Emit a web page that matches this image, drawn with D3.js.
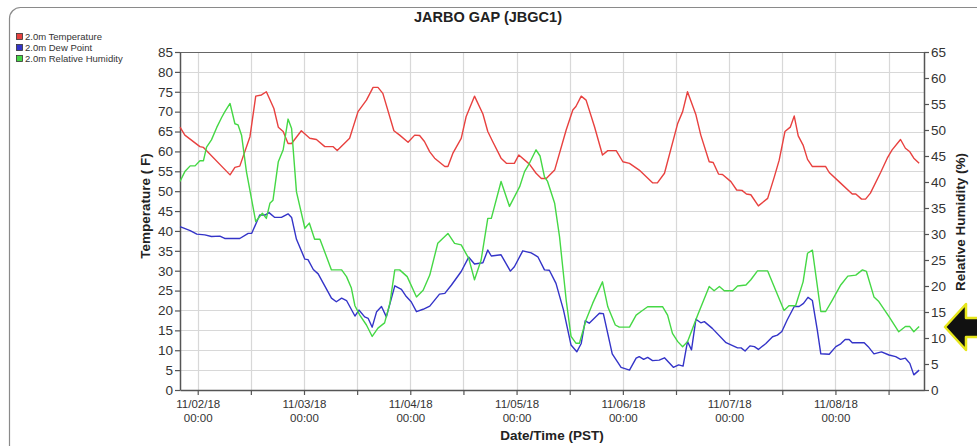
<!DOCTYPE html>
<html>
<head>
<meta charset="utf-8">
<script src="https://cdn.jsdelivr.net/npm/d3@7"></script>
<style>
  body { margin: 0; background: #fff; }
  svg { display: block; font-family: "Liberation Sans", Arial, sans-serif; }
</style>
</head>
<body>
<svg id="chart" width="977" height="446"></svg>
<script>
// hours since 11/01/18 20:00 PST
const tempHours = [0,1.1,4.5,5.3,11.3,12.4,13.5,15.8,17.1,18.4,19.5,21.2,22.2,23.3,24.4,25.2,27.4,29.3,30.8,32.7,34.6,35.5,38.3,40.2,42.1,43.6,44.7,45.8,48.3,49.6,51.5,53,54.1,55.2,56.4,57.5,59.8,60.5,61.6,63.5,64.6,66.5,68.4,69.5,70.6,72.5,73.7,75.5,76.5,78.9,80.4,81.6,82.7,84.6,87.2,88.7,89.4,90.6,91.7,93.6,95.4,96.6,98.5,100,101.5,103.7,106.7,107.8,109.4,112.4,113.5,114.6,116.5,117.6,119.5,120.4,121.6,122.5,124.4,125.7,126.9,127.9,128.9,130.6,132.7,134.2,135.3,136.6,137.8,138.7,139.6,140.7,141.7,142.8,145.8,146.6,148.8,151.8,152.6,153.9,154.8,155.9,158.2,159.7,160.8,162.7,163.8,164.8,165.7,166.9];
const tempValues = [66.1,64.1,61.2,61,54.1,56,56.3,63.7,73.9,74.2,75,70.8,66.1,65,62,62,65.2,63.3,63,61.2,61.2,60.2,63.3,70,72.9,76.1,76.1,74.6,65.2,64.1,62.3,64.1,64,62.5,59.9,58.3,56.2,56.2,59.5,63.3,68.7,73.9,69.4,65,62.5,58.3,57,57,59.1,56.8,54.5,53.2,53.2,55.3,65.4,70.4,71.3,73.9,72.9,66.2,59.1,60.2,60.2,57.4,57,55.3,52.1,52.1,54.5,67.1,70,75,69.2,64.1,57.4,57.2,54.3,54.2,52.4,50.3,50.2,49.3,49.1,46.3,48.2,53.6,57.8,65,66.1,68.9,63.9,61.6,58,56.2,56.2,54.7,52.4,49.3,49.3,48,48,49.5,54.7,58.3,60.4,63,60.8,59.9,58.3,57];

const dewHours = [0,2.3,3.8,5.6,7.1,9,10.1,13.5,15.4,16.2,18,19.2,20.1,21.4,22.9,24.4,25.2,26.3,28.2,28.9,30.1,31.2,34.2,35.3,36.5,37.6,39.5,40.4,41.7,42.5,43.4,44.4,45.5,46.6,48.5,50,51.1,52.2,53.4,54.9,56.4,58.6,59.8,61.3,63.5,65.2,66.5,68.4,69.5,70.3,72.5,74.6,75.5,77.4,79.3,80.8,82.3,83.4,84.9,86.6,88.3,89.6,90.6,91.5,92.4,94.7,95.6,97.6,99.6,101.5,103,103.7,104.7,105.6,106.7,108.2,109.4,111.4,112.6,113.6,114.6,115.5,116.5,117.6,118.4,120.2,123.3,125.9,126.7,127.6,128.7,129.7,130.6,132.3,133.8,134.9,135.9,137.1,138.7,139.8,140.8,141.8,142.8,143.9,144.7,146.6,148.1,149.2,150.2,151.1,151.8,154.5,155.4,156.7,158.4,160.1,161.6,162.7,163.8,164.8,165.7,166.9];
const dewValues = [41.1,40.1,39.2,39,38.6,38.7,38.1,38.1,39.4,39.4,44,44,44.6,43.4,43.4,44.3,43.4,37.9,32.9,32.8,30.3,29.2,23.1,22.2,23.1,22.5,18.6,20.1,18.4,18,15.8,19.7,21,18.4,26.2,25.3,23.5,22.2,19.7,20.3,21.1,24.1,24.3,26.4,29.8,33.4,31.7,32,35.2,33.7,34,29.9,31,35,34.5,33.5,30.2,30.1,26.8,20.1,11.3,9.6,11.7,17.4,16.8,19.3,19.2,9.1,5.7,5,8,8.4,7.7,8.2,7.4,7.5,8.1,5.7,6.3,6,12.2,10.1,17.8,16.9,17.2,15.5,11.9,10.6,10.6,9.8,11.1,10.9,10.2,11.7,13.4,13.8,14.7,17.6,21,21,21.8,23.3,22.5,15.1,9.1,9,10.9,11.6,12.7,12.7,11.9,11.9,10.9,9.1,9.6,8.8,8.4,7.7,8,6.7,3.8,5];

const rhHours = [0,1.1,2.3,3.4,4.5,5.3,6,7.1,8.3,9.4,10.1,11.3,12.4,13.1,13.9,15,16.2,17.1,18.6,19.5,20.3,21,22.2,23.3,24.4,25.2,26.3,28.2,29.2,30.4,31.6,34.2,36.5,37.6,38.7,39.5,40.6,42.1,43.4,44.7,46.2,47.4,48.5,49.6,51.3,53.4,54.9,56.4,58.2,60.5,62,63.5,65.2,66.5,68,69.5,70.3,72.5,74.4,76.7,77.8,78.9,80.4,81.3,82.3,83,84.6,85.7,87.2,88.3,89.4,90.2,91.7,93.2,95.4,96.6,98.3,99.2,101.5,103,104.1,105.6,109,110.1,111.2,112.4,113.5,114.6,116.9,119.5,120.6,121.8,122.9,124.8,125.9,127.8,128.9,130.4,132.7,134.5,136.4,137.5,139,140.7,141.7,142.8,144.7,145.8,147.3,149.2,150.8,152.6,154.1,155,156.7,157.8,160.1,162.3,163.8,164.8,165.7,166.9];
const rhValues = [40.1,42,43.1,43.1,44.1,44.1,46.7,48.1,50.5,52.4,53.5,55.1,51.2,51,49,42,36.5,32.4,34,33,35.9,36.5,43.9,46.2,52.1,50.3,38.1,31.1,32.1,29,29,23.1,23.1,21.8,19.6,16.2,14.4,12.5,10.3,11.9,12.9,16.7,23.1,23.1,21.8,17.9,19.2,22.1,28.2,30.1,28.2,27.9,25.3,21.2,25,33,33,40.1,35.3,39.1,42,43.6,46.2,45,41,40.1,35.9,29.5,17.3,10.3,9,9,13.5,16.7,20.8,16,12.5,12.1,12.1,14.4,15.1,16,16,14.4,10.9,9.3,8.3,9.3,14.4,19.9,19.1,19.9,19.1,19.1,20,20.2,21.2,22.9,22.9,19.2,15.3,16.2,16.2,20.8,26.3,26.9,15.1,15.1,17.3,20.2,21.9,22.1,23.1,22.8,17.9,17,14.1,11.2,12.2,12.2,11.2,12.2];

const seriesNames = ["2.0m Temperature", "2.0m Dew Point", "2.0m Relative Humidity"];
const seriesColors = ["#e8413f", "#3434c8", "#45d845"];
const tempTicks = d3.range(0, 86, 5);
const rhTicks = d3.range(0, 66, 5);

const svg = d3.select("#chart");
const start = new Date(2018, 10, 1, 20);
const end = new Date(2018, 10, 8, 20);
const plotL = 180, plotR = 924, plotT = 52, plotB = 390;

const x = d3.scaleTime().domain([start, end]).range([plotL, plotR]);
const yT = d3.scaleLinear().domain([0, 85]).range([plotB, plotT]);
const yR = d3.scaleLinear().domain([0, 65]).range([plotB, plotT]);
const toDate = (h) => new Date(start.getTime() + h * 3600e3);

// outer frame
svg.append("rect")
  .attr("x", 9.5).attr("y", 7.5).attr("width", 1000).attr("height", 500).attr("rx", 11)
  .attr("fill", "none").attr("stroke", "#8a8a8a").attr("stroke-width", 1.2);

svg.append("text")
  .attr("x", 488).attr("y", 22).attr("text-anchor", "middle")
  .attr("font-size", 14.5).attr("font-weight", "bold").attr("fill", "#222")
  .text("JARBO GAP (JBGC1)");

// gridlines
const halfDays = d3.timeHour.every(12).range(start, end);
svg.append("g").selectAll("line").data(tempTicks.slice(1))
  .join("line")
  .attr("x1", plotL).attr("x2", plotR)
  .attr("y1", (d) => Math.round(yT(d)) + 0.5).attr("y2", (d) => Math.round(yT(d)) + 0.5)
  .attr("stroke", "#d8d8d8").attr("stroke-width", 1.2);
svg.append("g").selectAll("line").data(halfDays)
  .join("line")
  .attr("x1", (d) => Math.round(x(d)) + 0.5).attr("x2", (d) => Math.round(x(d)) + 0.5)
  .attr("y1", plotT).attr("y2", plotB)
  .attr("stroke", "#d8d8d8").attr("stroke-width", 1.2);

// top border of plot
svg.append("line")
  .attr("x1", plotL).attr("x2", plotR).attr("y1", plotT + 0.5).attr("y2", plotT + 0.5)
  .attr("stroke", "#666").attr("stroke-width", 1.2);

// axes
const styleAxis = (g) => {
  g.select(".domain").attr("stroke", "#555").attr("stroke-width", 1.5);
  g.selectAll(".tick line").attr("stroke", "#555").attr("stroke-width", 1.2);
  g.selectAll(".tick text").attr("fill", "#333");
};

svg.append("g")
  .attr("transform", `translate(${plotL},0)`)
  .call(d3.axisLeft(yT).tickValues(tempTicks).tickSize(5).tickSizeOuter(0).tickPadding(2))
  .attr("font-size", 13.5).attr("font-family", null)
  .call(styleAxis);

svg.append("g")
  .attr("transform", `translate(${plotR},0)`)
  .call(d3.axisRight(yR).tickValues(rhTicks).tickSize(5).tickSizeOuter(0).tickPadding(2))
  .attr("font-size", 13.5).attr("font-family", null)
  .call(styleAxis);

const xAxis = svg.append("g")
  .attr("transform", `translate(0,${plotB})`)
  .call(d3.axisBottom(x).tickValues(halfDays).tickSize(5).tickSizeOuter(0).tickFormat(""))
  .attr("font-size", 11.5).attr("font-family", null)
  .call(styleAxis);

xAxis.selectAll(".tick text")
  .each(function (d) {
    if (d.getHours() !== 0) return;
    const t = d3.select(this);
    t.append("tspan").attr("x", 0).attr("dy", "0.9em").text(d3.timeFormat("%m/%d/%y")(d));
    t.append("tspan").attr("x", 0).attr("dy", "1.15em").text("00:00");
  });

// axis titles
svg.append("text")
  .attr("transform", "translate(150,206) rotate(-90)")
  .attr("text-anchor", "middle").attr("font-size", 13.5).attr("font-weight", "bold").attr("fill", "#222")
  .text("Temperature ( F)");
svg.append("text")
  .attr("transform", "translate(965,222) rotate(-90)")
  .attr("text-anchor", "middle").attr("font-size", 13.5).attr("font-weight", "bold").attr("fill", "#222")
  .text("Relative Humidity (%)");
svg.append("text")
  .attr("x", 552).attr("y", 440).attr("text-anchor", "middle")
  .attr("font-size", 13.5).attr("font-weight", "bold").attr("fill", "#222")
  .text("Date/Time (PST)");

// series
const series = [
  { hours: tempHours, values: tempValues, y: yT },
  { hours: dewHours, values: dewValues, y: yT },
  { hours: rhHours, values: rhValues, y: yR },
];
const plot = svg.append("g");
series.forEach((s, i) => {
  const pts = s.hours.map((h, j) => [toDate(h), s.values[j]]);
  plot.append("path")
    .datum(pts)
    .attr("fill", "none")
    .attr("stroke", seriesColors[i])
    .attr("stroke-width", 1.4)
    .attr("stroke-linejoin", "round")
    .attr("d", d3.line().x((d) => x(d[0])).y((d) => s.y(d[1])));
});

// legend
const legend = svg.append("g").attr("transform", "translate(16,33)");
seriesNames.forEach((name, i) => {
  const g = legend.append("g").attr("transform", `translate(0,${i * 11})`);
  g.append("rect").attr("x", 0.5).attr("y", 0.5).attr("width", 6).attr("height", 6)
    .attr("fill", seriesColors[i]).attr("stroke", "#333").attr("stroke-width", 0.8);
  g.append("text").attr("x", 9).attr("y", 6.5).attr("font-size", 9.5).attr("fill", "#333").text(name);
});

// pointer arrow at right edge
svg.append("path")
  .attr("d", "M945,327 L966,304 L966,318 L985,318 L985,337 L966,337 L966,350 Z")
  .attr("fill", "#111").attr("stroke", "#e6e61a").attr("stroke-width", 2.5).attr("stroke-linejoin", "round");
</script>
</body>
</html>
